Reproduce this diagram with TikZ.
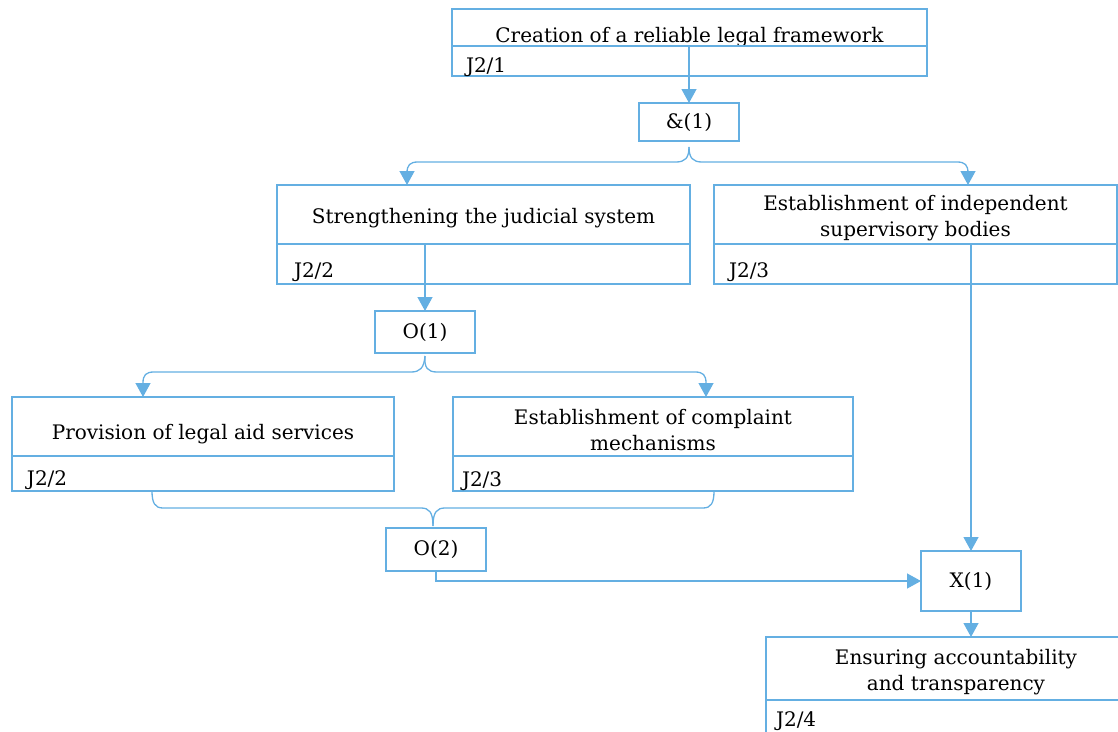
\documentclass[tikz,border=0pt]{standalone}
\usepackage{fontspec}
\setmainfont{DejaVu Serif}
\usetikzlibrary{arrows.meta,calc}
\definecolor{lnblue}{RGB}{100,175,226}
\newcommand{\lowerby}[2]{\raisebox{-#1}[0pt][0pt]{#2}}
\newcommand{\twolines}[3]{\raisebox{#1}[0pt][0pt]{\parbox[t]{380pt}{\centering #2\\#3}}}
\begin{document}
\begin{tikzpicture}[x=1pt,y=-1pt,
  part/.style={draw=lnblue, line width=1.3pt, rectangle, anchor=north west, inner sep=0pt, outer sep=0pt,
    font=\fontsize{20}{26}\selectfont, align=center, text=black},
  idpart/.style={part, align=left},
  conn/.style={draw=lnblue, line width=1.3pt},
  arr/.style={conn, -{Triangle[width=15pt,length=14pt]}},
]
\useasboundingbox (0,0) rectangle (1118,731);
\clip (0,0) rectangle (1118,731);

% top box
\node[part, minimum width=475pt, minimum height=37pt] (tt) at (452,9) {\lowerby{14.8pt}{Creation of a reliable legal framework}};
\node[idpart, minimum width=475pt, minimum height=30pt, text width=447pt] (ti) at (452,46) {\lowerby{11pt}{J2/1}};

\node[part, minimum width=100pt, minimum height=38pt] (and1) at (639,103) {\&(1)};

% strengthening
\node[part, minimum width=413pt, minimum height=59pt] (sjt) at (277,185) {\lowerby{9.3pt}{Strengthening the judicial system}};
\node[idpart, minimum width=413pt, minimum height=40pt, text width=379pt] (sji) at (277,244) {\lowerby{13.3pt}{J2/2}};

% supervisory
\node[part, minimum width=403pt, minimum height=59pt] (supt) at (714,185) {\twolines{4.2pt}{Establishment of independent}{supervisory bodies}};
\node[idpart, minimum width=403pt, minimum height=40pt, text width=373pt] (supi) at (714,244) {\lowerby{13.8pt}{J2/3}};

\node[part, minimum width=100pt, minimum height=42pt] (o1) at (375,311) {O(1)};

% legal aid
\node[part, minimum width=382pt, minimum height=59pt] (plat) at (12,397) {\lowerby{12.8pt}{Provision of legal aid services}};
\node[idpart, minimum width=382pt, minimum height=35pt, text width=352pt] (plai) at (12,456) {\lowerby{12.3pt}{J2/2}};

% complaint
\node[part, minimum width=400pt, minimum height=59pt] (cmt) at (453,397) {\twolines{2.2pt}{Establishment of complaint}{mechanisms}};
\node[idpart, minimum width=400pt, minimum height=35pt, text width=382pt] (cmi) at (453,456) {\lowerby{13.3pt}{J2/3}};

\node[part, minimum width=100pt, minimum height=43pt] (o2) at (386,528) {O(2)};
\node[part, minimum width=100pt, minimum height=60pt] (x1) at (921,551) {X(1)};

% ensuring
\node[part, minimum width=358pt, minimum height=63pt] (enst) at (766,637) {\twolines{4.5pt}{Ensuring accountability}{and transparency}};
\node[idpart, minimum width=358pt, minimum height=40pt, text width=338pt] (ensi) at (766,700) {\lowerby{6.3pt}{J2/4}};

% connectors
\draw[arr] (tt.south -| and1.north) -- (and1.north);

\draw[arr] ($(and1.south)+(0,6)$) .. controls (689,158) and (685,162) .. (676,162) -- (418,162)
  .. controls (410,162) and (407,165) .. (407,173) -- (407,0 |- sjt.north);
\draw[arr] ($(and1.south)+(0,6)$) .. controls (689,158) and (693,162) .. (702,162) -- (957,162)
  .. controls (965,162) and (968,165) .. (968,173) -- (968,0 |- supt.north);

\draw[arr] (sjt.south -| o1.north) -- (o1.north);
\draw[arr] (supt.south -| x1.north) -- (x1.north);

\draw[arr] ($(o1.south)+(0,3)$) .. controls (424,368) and (420,372) .. (411,372) -- (154,372)
  .. controls (146,372) and (143,375) .. (143,383) -- (143,0 |- plat.north);
\draw[arr] ($(o1.south)+(0,3)$) .. controls (424,368) and (428,372) .. (437,372) -- (695,372)
  .. controls (703,372) and (706,375) .. (706,383) -- (706,0 |- cmt.north);

\draw[conn] (152,0 |- plai.south) .. controls (152,503) and (155,508) .. (163,508) -- (421,508)
  .. controls (429,508) and (433,512) .. ($(433,0 |- o2.north)+(0,-2)$);
\draw[conn] (714,0 |- cmi.south) .. controls (714,503) and (711,508) .. (703,508) -- (445,508)
  .. controls (437,508) and (433,512) .. ($(433,0 |- o2.north)+(0,-2)$);

\draw[arr] (o2.south) |- (x1.west);
\draw[arr] (x1.south) -- (x1.south |- enst.north);
\end{tikzpicture}
\end{document}
